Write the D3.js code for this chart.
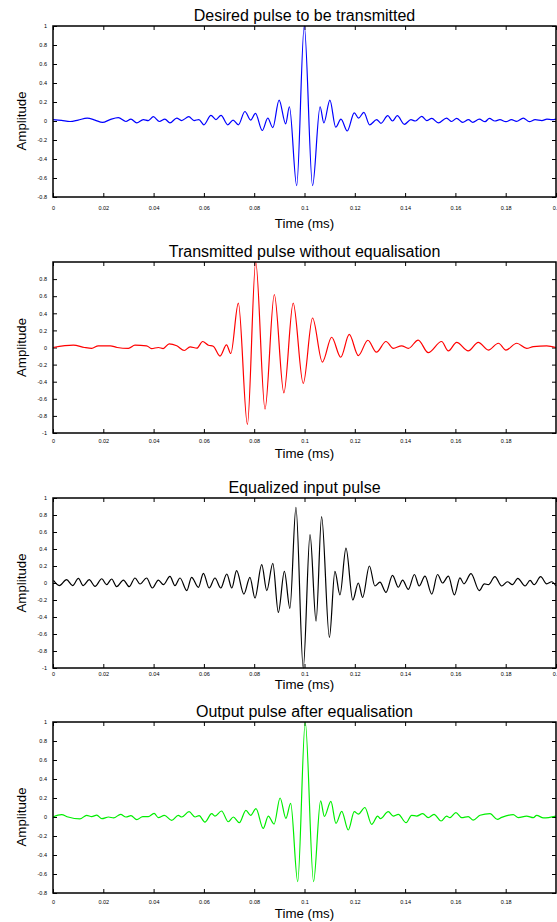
<!DOCTYPE html>
<html>
<head>
<meta charset="utf-8">
<script src="https://cdn.jsdelivr.net/npm/d3@7"></script>
<style>
  body { margin: 0; background: #fff; }
  text { font-family: "Liberation Sans", Arial, Helvetica, sans-serif; fill: #000; }
  .tick text { font-size: 5.5px; }
  .tick line { stroke: #000; }
</style>
</head>
<body>
<div id="chart"></div>
<script>
// titles of the four panels
var titles = [
  "Desired pulse to be transmitted",
  "Transmitted pulse without equalisation",
  "Equalized input pulse",
  "Output pulse after equalisation"
];

// tick values
var xTicksFull = [0, 0.02, 0.04, 0.06, 0.08, 0.1, 0.12, 0.14, 0.16, 0.18, 0.2];
var xTicksShort = [0, 0.02, 0.04, 0.06, 0.08, 0.1, 0.12, 0.14, 0.16, 0.18];
var yTicks08to1 = [-0.8, -0.6, -0.4, -0.2, 0, 0.2, 0.4, 0.6, 0.8, 1];
var yTicksM1to08 = [-1, -0.8, -0.6, -0.4, -0.2, 0, 0.2, 0.4, 0.6, 0.8];
var yTicksM1to1 = [-1, -0.8, -0.6, -0.4, -0.2, 0, 0.2, 0.4, 0.6, 0.8, 1];

// [time (ms), amplitude]
var desiredPulse = [
  [0, 0.014], [0.0034, 0.006], [0.0068, -0.005], [0.010, 0.01], [0.0136, 0.03], [0.0167, 0.01],
  [0.0197, -0.015], [0.0227, 0.015], [0.026, 0.035], [0.029, -0.005], [0.031, 0.02], [0.0333, -0.02],
  [0.0359, 0.015], [0.0379, 0.005], [0.0399, 0.045], [0.0423, -0.005], [0.0445, 0.02], [0.0465, -0.02],
  [0.0492, 0.03], [0.0511, 0.005], [0.054, 0.045], [0.0561, 0.005], [0.058, 0.015], [0.060, -0.04],
  [0.0628, 0.06], [0.0648, 0.015], [0.0668, 0.06], [0.0695, -0.04], [0.0716, 0.01], [0.0737, -0.04],
  [0.0763, 0.1], [0.0786, 0.01], [0.0805, 0.08], [0.0832, -0.1], [0.0854, 0.03], [0.0874, -0.07],
  [0.0899, 0.22], [0.0925, -0.03], [0.094, 0.15], [0.0969, -0.68], [0.0999, 1.0], [0.1032, -0.68],
  [0.1062, 0.15], [0.1077, -0.02], [0.1101, 0.22], [0.1124, -0.065], [0.1145, 0.02], [0.117, -0.105],
  [0.1198, 0.085], [0.1215, 0.03], [0.1236, 0.09], [0.1259, -0.04], [0.1287, 0.014], [0.1304, -0.024],
  [0.1331, 0.056], [0.135, 0.0], [0.1369, 0.056], [0.1397, -0.035], [0.1423, 0.014], [0.1441, 0.0],
  [0.1466, 0.049], [0.1486, 0.004], [0.1506, 0.028], [0.1532, -0.02], [0.1565, 0.03], [0.1585, -0.005],
  [0.1605, 0.028], [0.1629, -0.014], [0.1652, 0.014], [0.1669, -0.014], [0.1695, 0.02], [0.1718, -0.007],
  [0.1735, 0.028], [0.1757, 0.0], [0.1777, 0.014], [0.1801, -0.007], [0.1823, 0.014], [0.1843, -0.004],
  [0.187, 0.03], [0.1894, -0.007], [0.1917, 0.014], [0.1944, 0.004], [0.1964, 0.02], [0.1984, 0.014],
  [0.2, 0.02]
];

var transmittedPulse = [
  [0, 0.0], [0.0081, 0.027], [0.0125, 0.0], [0.0154, -0.01], [0.018, 0.02], [0.0228, 0.02],
  [0.0255, 0.0], [0.030, -0.01], [0.0326, 0.027], [0.0372, 0.02], [0.0392, -0.012], [0.0419, 0.0],
  [0.0438, -0.012], [0.0462, 0.043], [0.0492, 0.02], [0.0522, -0.035], [0.0545, 0.008], [0.0572, -0.008],
  [0.0595, 0.07], [0.0618, 0.027], [0.0637, 0.015], [0.0664, -0.1], [0.069, 0.03], [0.0707, -0.07],
  [0.0737, 0.52], [0.0773, -0.9], [0.0806, 1.0], [0.0843, -0.72], [0.088, 0.62], [0.0918, -0.53],
  [0.0955, 0.52], [0.0995, -0.42], [0.1032, 0.345], [0.1071, -0.17], [0.1108, 0.12], [0.1144, -0.114],
  [0.1178, 0.153], [0.1214, -0.094], [0.1252, 0.085], [0.1286, -0.055], [0.1324, 0.07], [0.1353, -0.01],
  [0.1386, 0.02], [0.1413, -0.01], [0.1452, 0.086], [0.1492, -0.06], [0.1545, 0.07], [0.1572, -0.04],
  [0.1605, 0.06], [0.1651, -0.04], [0.1691, 0.06], [0.1731, -0.03], [0.1771, 0.05], [0.1801, -0.03],
  [0.1844, 0.05], [0.1883, -0.01], [0.191, 0.01], [0.1963, 0.02], [0.2, 0.0]
];

var equalizedPulse = [
  [0.0002, 0.03], [0.0025, -0.03], [0.0054, 0.04], [0.0078, -0.03], [0.0101, 0.055], [0.012, -0.03],
  [0.0144, 0.04], [0.0167, -0.04], [0.0194, 0.05], [0.0213, -0.02], [0.0233, 0.047], [0.0253, -0.043],
  [0.028, 0.035], [0.0303, -0.043], [0.0326, 0.059], [0.0346, -0.012], [0.0372, 0.059], [0.0395, -0.059],
  [0.0419, 0.035], [0.0439, -0.02], [0.0465, 0.078], [0.0485, -0.031], [0.0505, 0.059], [0.0532, -0.09],
  [0.0551, 0.067], [0.0578, -0.051], [0.0598, 0.114], [0.0621, -0.059], [0.0644, 0.059], [0.0667, -0.059],
  [0.0691, 0.106], [0.0711, -0.059], [0.073, 0.145], [0.0759, -0.13], [0.0783, 0.067], [0.0803, -0.176],
  [0.083, 0.216], [0.085, -0.09], [0.0874, 0.231], [0.0896, -0.345], [0.092, 0.137], [0.0942, -0.298],
  [0.0966, 0.89], [0.0995, -1.0], [0.1022, 0.57], [0.1046, -0.45], [0.1068, 0.78], [0.1099, -0.64],
  [0.1121, 0.137], [0.1141, -0.14], [0.1165, 0.41], [0.1192, -0.2], [0.1214, 0.0], [0.1231, -0.17],
  [0.1258, 0.2], [0.128, -0.035], [0.13, 0.01], [0.1324, -0.11], [0.135, 0.09], [0.1373, -0.05],
  [0.139, 0.035], [0.1413, -0.075], [0.1437, 0.1], [0.1456, -0.035], [0.1479, 0.08], [0.1506, -0.13],
  [0.1529, 0.1], [0.1549, 0.0], [0.1572, 0.08], [0.1596, -0.14], [0.1618, 0.06], [0.1634, -0.01],
  [0.1662, 0.11], [0.1695, -0.09], [0.1715, -0.01], [0.1731, -0.02], [0.1757, 0.075], [0.1784, -0.035],
  [0.1807, 0.015], [0.1827, -0.02], [0.1848, 0.055], [0.1877, -0.035], [0.1897, 0.03], [0.1913, -0.02],
  [0.1939, 0.075], [0.1963, -0.01], [0.1983, 0.015], [0.2, -0.035]
];

var outputPulse = [
  [0, 0.0], [0.0034, 0.025], [0.006, 0.0], [0.0107, -0.02], [0.0134, 0.018], [0.0154, 0.004],
  [0.0174, 0.02], [0.0194, -0.018], [0.0221, 0.0], [0.0241, -0.01], [0.0269, 0.028], [0.029, 0.0],
  [0.031, 0.014], [0.0333, -0.028], [0.0357, 0.004], [0.0379, 0.004], [0.0402, 0.039], [0.0419, -0.007],
  [0.0443, 0.018], [0.0472, -0.035], [0.0498, 0.018], [0.0512, 0.0], [0.0541, 0.056], [0.0565, 0.0],
  [0.0581, 0.014], [0.0604, -0.053], [0.0631, 0.035], [0.0644, 0.01], [0.067, 0.063], [0.0697, -0.05],
  [0.0717, 0.0], [0.0741, -0.06], [0.0767, 0.07], [0.0786, 0.018], [0.0807, 0.088], [0.0836, -0.12],
  [0.0856, 0.01], [0.0879, -0.074], [0.0903, 0.2], [0.0926, -0.014], [0.0945, 0.144], [0.0973, -0.68],
  [0.1003, 1.0], [0.1036, -0.68], [0.1064, 0.17], [0.1079, 0.007], [0.1105, 0.165], [0.1125, -0.067],
  [0.1148, 0.06], [0.1174, -0.137], [0.1198, 0.056], [0.1214, 0.03], [0.124, 0.1], [0.1267, -0.077],
  [0.1291, 0.01], [0.1302, -0.018], [0.1333, 0.056], [0.1353, 0.01], [0.1373, 0.028], [0.1404, -0.06],
  [0.1426, 0.018], [0.1446, 0.01], [0.147, 0.035], [0.1492, -0.007], [0.1515, 0.028], [0.1543, -0.042],
  [0.1565, 0.01], [0.1578, -0.007], [0.1602, 0.046], [0.1625, -0.007], [0.1651, 0.004], [0.1671, -0.032],
  [0.1698, 0.018], [0.1738, 0.035], [0.1767, -0.025], [0.1784, -0.004], [0.183, 0.025], [0.185, -0.007],
  [0.1883, 0.01], [0.191, -0.007], [0.1923, 0.018], [0.195, -0.01], [0.2, 0.01]
];

var svgWidth = 557;
var svgHeight = 922;
var left = 53;
var right = 556;

// layout of each subplot
var panels = [
  { title: titles[0], data: desiredPulse, color: "#0000ff", top: 26, bottom: 197,
    yDomain: [-0.8, 1], yTicks: yTicks08to1, xTicks: xTicksFull, tickPad: 9, xLabelOff: 31 },
  { title: titles[1], data: transmittedPulse, color: "#ff0000", top: 262, bottom: 433,
    yDomain: [-1, 1], yTicks: yTicksM1to08, xTicks: xTicksShort, tickPad: 6, xLabelOff: 25 },
  { title: titles[2], data: equalizedPulse, color: "#000000", top: 498, bottom: 668,
    yDomain: [-1, 1], yTicks: yTicksM1to1, xTicks: xTicksFull, tickPad: 4, xLabelOff: 21 },
  { title: titles[3], data: outputPulse, color: "#00ee00", top: 722, bottom: 893,
    yDomain: [-0.8, 1], yTicks: yTicks08to1, xTicks: xTicksShort, tickPad: 7, xLabelOff: 25 }
];

var svg = d3.select("#chart")
  .append("svg")
  .attr("width", svgWidth)
  .attr("height", svgHeight);

var fmt = function(d) { return String(+d.toFixed(2)); };

panels.forEach(function(p) {
  var x = d3.scaleLinear().domain([0, 0.2]).range([left, right]);
  var y = d3.scaleLinear().domain(p.yDomain).range([p.bottom, p.top]);

  var g = svg.append("g");

  // bottom axis with labels, ticks pointing inward
  g.append("g")
    .attr("transform", `translate(0, ${p.bottom})`)
    .call(d3.axisBottom(x).tickValues(p.xTicks).tickFormat(fmt)
      .tickSizeInner(-4).tickSizeOuter(0).tickPadding(p.tickPad))
    .call(a => a.select(".domain").remove());

  // top axis, ticks only
  g.append("g")
    .attr("transform", `translate(0, ${p.top})`)
    .call(d3.axisTop(x).tickValues(p.xTicks).tickFormat("")
      .tickSizeInner(-4).tickSizeOuter(0))
    .call(a => a.select(".domain").remove());

  // left axis with labels
  g.append("g")
    .attr("transform", `translate(${left}, 0)`)
    .call(d3.axisLeft(y).tickValues(p.yTicks).tickFormat(fmt)
      .tickSizeInner(-4).tickSizeOuter(0).tickPadding(6))
    .call(a => a.select(".domain").remove());

  // right axis, ticks only
  g.append("g")
    .attr("transform", `translate(${right}, 0)`)
    .call(d3.axisRight(y).tickValues(p.yTicks).tickFormat("")
      .tickSizeInner(-4).tickSizeOuter(0))
    .call(a => a.select(".domain").remove());

  // the pulse
  var line = d3.line()
    .x(d => x(d[0]))
    .y(d => y(d[1]))
    .curve(d3.curveMonotoneX);

  g.append("path")
    .datum(p.data)
    .attr("fill", "none")
    .attr("stroke", p.color)
    .attr("stroke-width", 1.2)
    .attr("d", line);

  // box
  g.append("rect")
    .attr("x", left)
    .attr("y", p.top)
    .attr("width", right - left)
    .attr("height", p.bottom - p.top)
    .attr("fill", "none")
    .attr("stroke", "#000")
    .attr("stroke-width", 1.5);

  // title
  g.append("text")
    .attr("x", (left + right) / 2)
    .attr("y", p.top - 5)
    .attr("text-anchor", "middle")
    .style("font-size", "16px")
    .text(p.title);

  // x label
  g.append("text")
    .attr("x", (left + right) / 2)
    .attr("y", p.bottom + p.xLabelOff)
    .attr("text-anchor", "middle")
    .style("font-size", "13.3px")
    .text("Time (ms)");

  // y label
  g.append("text")
    .attr("transform", `translate(26, ${y(0)}) rotate(-90)`)
    .attr("text-anchor", "middle")
    .style("font-size", "13.3px")
    .text("Amplitude");
});
</script>
</body>
</html>
